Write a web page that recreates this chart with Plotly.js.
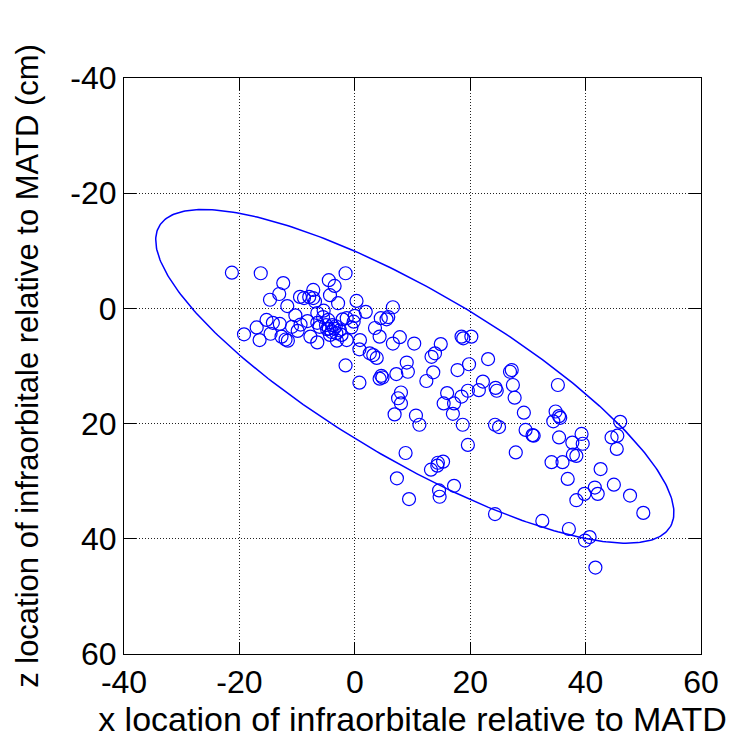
<!DOCTYPE html>
<html>
<head>
<meta charset="utf-8">
<script src="https://cdn.plot.ly/plotly-3.0.1.min.js"></script>
<style>html,body{margin:0;padding:0;background:#fff;}#chart{width:733px;height:743px;}</style>
</head>
<body>
<div id="chart"></div>
<script>
// Infraorbitale x locations (relative to MATD)
const xLoc = [
  -21.3,-16.3,-1.6,-12.4,-4.5,-3.5,-13.1,-14.7,-7.2,-9.5,
  -8.8,-7.9,-7.2,-6.9,-4.3,-2.9,0.3,-11.7,-10.3,-6.5,
  -5.4,-15.3,-14.2,-13.0,-17.0,-19.2,-14.6,-16.5,-12.7,-12.0,
  -11.6,-10.9,-9.9,-9.4,-8.2,-7.7,-6.5,-6.5,-6.1,-5.0,
  -4.6,-4.5,-4.0,-3.6,-3.2,-2.6,-2.1,-1.4,-0.6,-0.2,
  0.0,-2.3,-3.1,-1.4,0.9,0.8,-1.6,0.8,1.9,-4.8,
  -3.9,-3.3,-4.3,-5.5,
  6.6,5.8,4.5,5.5,3.5,4.3,7.8,6.6,10.3,2.6,
  3.2,3.8,18.5,18.8,20.2,14.9,13.9,13.3,9.0,9.2,
  7.2,4.6,4.8,4.3,13.6,12.4,17.8,19.8,23.1,26.9,
  27.2,27.4,22.2,21.5,24.4,24.6,19.6,18.5,16.0,17.2,
  15.4,17.0,8.0,7.5,8.0,6.9,10.6,11.2,27.7,29.3,
  18.7,24.3,25.0,29.6,30.8,34.4,19.6,27.9,8.8,14.4,
  15.3,14.3,13.2,7.3,17.2,14.6,14.7,9.4,24.3,
  35.2,34.8,35.4,35.6,31.0,35.4,39.3,37.7,39.5,46.0,
  44.5,45.5,45.4,37.8,38.4,34.1,36.0,42.6,36.9,44.9,
  41.6,42.1,39.8,38.4,47.7,50.0,32.5,37.1,39.9,40.7,
  41.7
];
// Infraorbitale z locations (relative to MATD, cm)
const zLoc = [
  -6.2,-6.1,-6.1,-4.4,-4.9,-3.9,-2.5,-1.5,-3.2,-2.0,
  -1.8,-2.0,-1.8,-1.2,-2.3,-0.9,-1.3,-0.4,1.2,0.8,
  0.4,2.0,2.5,2.7,3.3,4.5,4.4,5.5,4.9,5.4,
  5.6,3.2,3.9,2.8,2.2,4.9,5.9,2.5,3.2,2.9,
  2.0,3.5,4.1,3.5,4.3,3.8,1.9,1.7,3.3,2.3,
  1.3,4.6,5.6,5.5,5.5,7.1,9.9,12.9,0.6,3.6,
  2.9,3.1,4.6,1.5,
  -0.2,1.5,1.7,1.9,3.4,4.9,5.0,6.1,6.1,7.8,
  8.1,8.6,4.9,5.2,4.9,6.2,7.8,8.4,9.4,11.0,
  11.4,11.7,12.0,12.2,11.1,12.6,10.7,9.7,8.8,11.0,
  10.7,13.3,12.7,14.2,13.8,14.3,14.3,15.3,14.7,16.5,
  16.5,18.3,14.6,15.6,16.5,18.4,18.6,20.2,15.5,18.1,
  20.2,20.2,20.6,21.1,22.0,19.6,23.7,25.0,25.1,26.8,
  26.6,27.3,28.0,29.5,30.8,31.6,32.7,33.1,35.7,
  13.3,17.9,18.7,19.0,22.1,22.4,21.8,23.3,23.5,19.7,
  22.4,22.1,24.4,25.4,25.6,26.7,26.7,27.9,29.6,30.6,
  31.1,32.2,32.2,33.3,32.5,35.5,36.9,38.3,40.3,39.7,
  45.0
];
// Confidence ellipse parameters (estimated from the figure)
const ellCenter = [10.4, 11.8];
const ellSemiMajor = 51.4;
const ellSemiMinor = 14.6;
const ellAngleDeg = 30.5;

const xTicks = [-40,-20,0,20,40,60];
const yTicks = [-40,-20,0,20,40,60];

const ex = [], ez = [];
const th = ellAngleDeg*Math.PI/180;
for (let i=0;i<=360;i++){
  const t = i*Math.PI/180;
  const u = ellSemiMajor*Math.cos(t), v = ellSemiMinor*Math.sin(t);
  ex.push(ellCenter[0] + u*Math.cos(th) - v*Math.sin(th));
  ez.push(ellCenter[1] + u*Math.sin(th) + v*Math.cos(th));
}

const fontFam = 'Liberation Sans, Arial, sans-serif';
const traces = [
  {x: xLoc, y: zLoc, mode:'markers', type:'scatter',
   marker:{symbol:'circle-open', size:13, color:'#0000ff', line:{width:1.2, color:'#0000ff'}},
   hoverinfo:'skip'},
  {x: ex, y: ez, mode:'lines', type:'scatter', line:{color:'#0000ff', width:1.5}, hoverinfo:'skip'}
];
const axisCommon = {
  showgrid:true, gridcolor:'#222', griddash:'1px,2px', gridwidth:1,
  zeroline:false, showline:true, linecolor:'#000', linewidth:1, mirror:'ticks',
  ticks:'inside', ticklen:12, tickwidth:1, tickcolor:'#000',
  tickfont:{family:fontFam, size:32, color:'#000'}
};
const layout = {
  width:733, height:743, showlegend:false,
  paper_bgcolor:'#fff', plot_bgcolor:'#fff',
  margin:{l:124, r:32, t:78, b:89},
  xaxis: Object.assign({}, axisCommon, {
    range:[-40,60], tickvals:xTicks, ticktext:xTicks.map(String),
    title:{text:'x location of infraorbitale relative to MATD', font:{family:fontFam, size:34, color:'#000'}, standoff:4}
  }),
  yaxis: Object.assign({}, axisCommon, {
    range:[60,-40], tickvals:yTicks, ticktext:yTicks.map(String),
    title:{text:'z location of infraorbitale relative to MATD (cm)', font:{family:fontFam, size:31, color:'#000'}, standoff:22}
  })
};
Plotly.newPlot('chart', traces, layout, {staticPlot:true, displayModeBar:false});
</script>
</body>
</html>
